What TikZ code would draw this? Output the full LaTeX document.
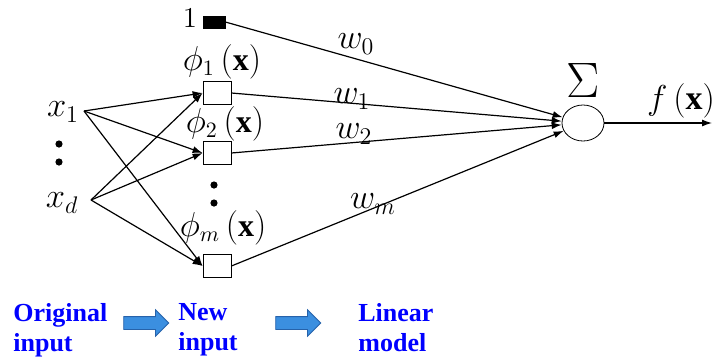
\documentclass[tikz,border=0pt]{standalone}
\usepackage{fontspec}
\setmainfont{Liberation Serif}
\newfontfamily\stagefont{Liberation Serif}
\usepackage{amsmath}
\usetikzlibrary{arrows.meta,shapes.geometric,shapes.arrows}
\definecolor{arrowblue}{RGB}{59,143,224}
\definecolor{arrowedge}{RGB}{38,98,170}
\tikzstyle{unitbox}=[draw,rectangle,minimum width=14pt,minimum height=11.5pt,inner sep=0pt,fill=white]
\tikzstyle{biasbox}=[draw,fill=black,rectangle,minimum width=11pt,minimum height=6pt,inner sep=0pt]
\tikzstyle{sumnode}=[draw,ellipse,minimum width=21pt,minimum height=18pt,inner sep=0pt]
\tikzstyle{dotnode}=[circle,fill=black,minimum size=3.6pt,inner sep=0pt]
\tikzstyle{stagearrow}=[single arrow,draw=arrowedge,fill=arrowblue,minimum height=22.5pt,inner xsep=0pt,inner ysep=3pt,single arrow head extend=3.4pt]
\tikzstyle{stagetext}=[anchor=north west,align=left,text=blue,font=\stagefont\fontsize{13}{15}\selectfont\bfseries,inner sep=0pt]
\tikzstyle{wire}=[-{Latex[length=5pt,width=3.5pt]},line width=0.6pt]

\begin{document}
\begin{tikzpicture}[x=0.5pt,y=-0.5pt]
    \useasboundingbox (0,0) rectangle (724,360);
    % inputs
    \node[font=\fontsize{17}{19}\selectfont] (x1) at (63,112) {$x_1$};
    \node[font=\fontsize{17}{19}\selectfont] (xd) at (62,203) {$x_d$};
    \coordinate (in1) at (84,111);
    \coordinate (ind) at (91,200);
    \node[dotnode] (d1) at (59,144) {};
    \node[dotnode] (d2) at (59,162) {};

    % basis functions
    \node[font=\fontsize{15}{17}\selectfont] (one) at (190,18) {$1$};
    \node[biasbox] (b) at (214,22) {};
    \node[unitbox] (p1) at (217,93) {};
    \node[unitbox] (p2) at (217,153) {};
    \node[unitbox] (pm) at (217,266) {};
    \node[font=\fontsize{16}{18}\selectfont] (l1) at (222,62) {$\phi_1\,(\mathbf{x})$};
    \node[font=\fontsize{16}{18}\selectfont] (l2) at (225,124) {$\phi_2\,(\mathbf{x})$};
    \node[font=\fontsize{16}{18}\selectfont] (lm) at (223,228) {$\phi_m\,(\mathbf{x})$};
    \node[dotnode] (d3) at (214,185) {};
    \node[dotnode] (d4) at (214,203) {};

    % output unit
    \node[sumnode] (sum) at (583,123) {};
    \node[font=\fontsize{23}{25}\selectfont] (sig) at (583,80) {$\Sigma$};
    \node[font=\fontsize{17}{19}\selectfont] (fx) at (681,101) {$f\,(\mathbf{x})$};
    \coordinate (out) at (712,123);

    \foreach \from/\to in {in1/p1,in1/p2,in1/pm,ind/p1,ind/p2,ind/pm}
    \draw[wire] (\from) -- (\to.west);
    \foreach \from in {b,p1,p2,pm}
    \draw[wire] (\from.east) -- (sum);
    \draw[wire] (sum) -- (out);

    % weights
    \node[font=\fontsize{17}{19}\selectfont] (w0) at (356,44) {$w_0$};
    \node[font=\fontsize{17}{19}\selectfont] (w1) at (352,99) {$w_1$};
    \node[font=\fontsize{17}{19}\selectfont] (w2) at (354,134) {$w_2$};
    \node[font=\fontsize{17}{19}\selectfont] (wm) at (373,204) {$w_m$};

    % stages
    \node[stagetext] (orig) at (13,303) {Original\\input};
    \node[stagearrow] (a1) at (143,323) {};
    \node[stagetext] (new) at (178,303) {New\\input};
    \node[stagearrow] (a2) at (295,323) {};
    \node[stagetext] (lin) at (358,303) {Linear\\model};
\end{tikzpicture}
\end{document}
